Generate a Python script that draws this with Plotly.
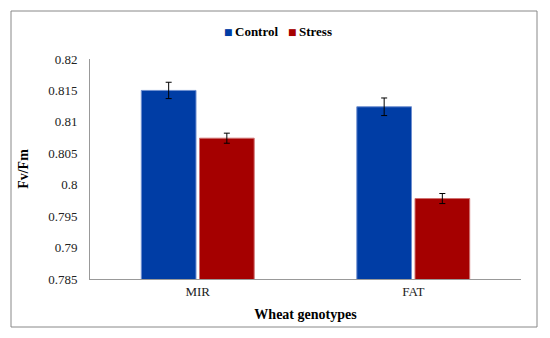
import plotly.graph_objects as go

genotypes = ["MIR", "FAT"]
control = [0.8150, 0.8124]
stress = [0.8074, 0.7978]
control_err = [0.0013, 0.0014]
stress_err = [0.0008, 0.0008]
y_ticks = [0.785, 0.79, 0.795, 0.8, 0.805, 0.81, 0.815, 0.82]
y_ticklabels = ["0.785", "0.79", "0.795", "0.8", "0.805", "0.81", "0.815", "0.82"]
series_names = ["Control", "Stress"]
series_colors = ["#003DA5", "#A50000"]

FONT = "Liberation Serif"

fig = go.Figure()
fig.add_trace(go.Bar(
    x=genotypes, y=control, name=series_names[0],
    marker=dict(color=series_colors[0], line=dict(color="#6F8FD0", width=1)),
    error_y=dict(type="data", array=control_err, color="black", thickness=1, width=3),
))
fig.add_trace(go.Bar(
    x=genotypes, y=stress, name=series_names[1],
    marker=dict(color=series_colors[1], line=dict(color="#D07070", width=1)),
    error_y=dict(type="data", array=stress_err, color="black", thickness=1, width=3),
))

L, R, T, B = 90, 29, 59, 59
W, H = 550, 338
pw, ph = W - L - R, H - T - B

def px_x(x):
    return (x - L) / pw

def px_y(y):
    return (H - B - y) / ph

# manual legend (small squares like the original)
legend_items = [(222, 233, 0), (286, 297, 1)]
annotations = []
for sq_x, tx_x, i in legend_items:
    annotations.append(dict(
        xref="paper", yref="paper", x=px_x(sq_x), y=px_y(32), xanchor="left", yanchor="middle",
        text="■", showarrow=False, font=dict(family="DejaVu Sans", size=9, color=series_colors[i]),
    ))
    annotations.append(dict(
        xref="paper", yref="paper", x=px_x(tx_x), y=px_y(32), xanchor="left", yanchor="middle",
        text="<b>%s</b>" % series_names[i], showarrow=False,
        font=dict(family=FONT, size=13, color="black"),
    ))

fig.update_layout(
    width=W, height=H,
    margin=dict(l=L, r=R, t=T, b=B, autoexpand=False),
    paper_bgcolor="white", plot_bgcolor="white",
    barmode="group", bargap=0.46, bargroupgap=0.06,
    font=dict(family=FONT, size=13, color="black"),
    showlegend=False,
    annotations=annotations,
    xaxis=dict(
        showline=True, linecolor="#999999", linewidth=1, ticks="",
        tickfont=dict(family=FONT, size=13, color="#222"),
        ticklabelstandoff=0,
        title=dict(text="<b>Wheat genotypes</b>", standoff=11,
                   font=dict(family=FONT, size=14, color="black")),
        automargin=False,
    ),
    yaxis=dict(
        range=[0.785, 0.82], tickvals=y_ticks, ticktext=y_ticklabels,
        showline=True, linecolor="#999999", linewidth=1, ticks="",
        showgrid=False, zeroline=False,
        tickfont=dict(family=FONT, size=13, color="#222"),
        ticklabelstandoff=9,
        title=dict(text="<b>Fv/Fm</b>", standoff=16,
                   font=dict(family=FONT, size=14, color="black")),
        automargin=False,
    ),
    shapes=[dict(
        type="rect", xref="paper", yref="paper",
        x0=px_x(11), x1=px_x(537), y0=px_y(327), y1=px_y(11),
        line=dict(color="#888888", width=1), fillcolor="rgba(0,0,0,0)", layer="below",
    )],
)

fig.write_html("out.html", config={"displayModeBar": False},
               post_script="document.body.style.margin='0';")
